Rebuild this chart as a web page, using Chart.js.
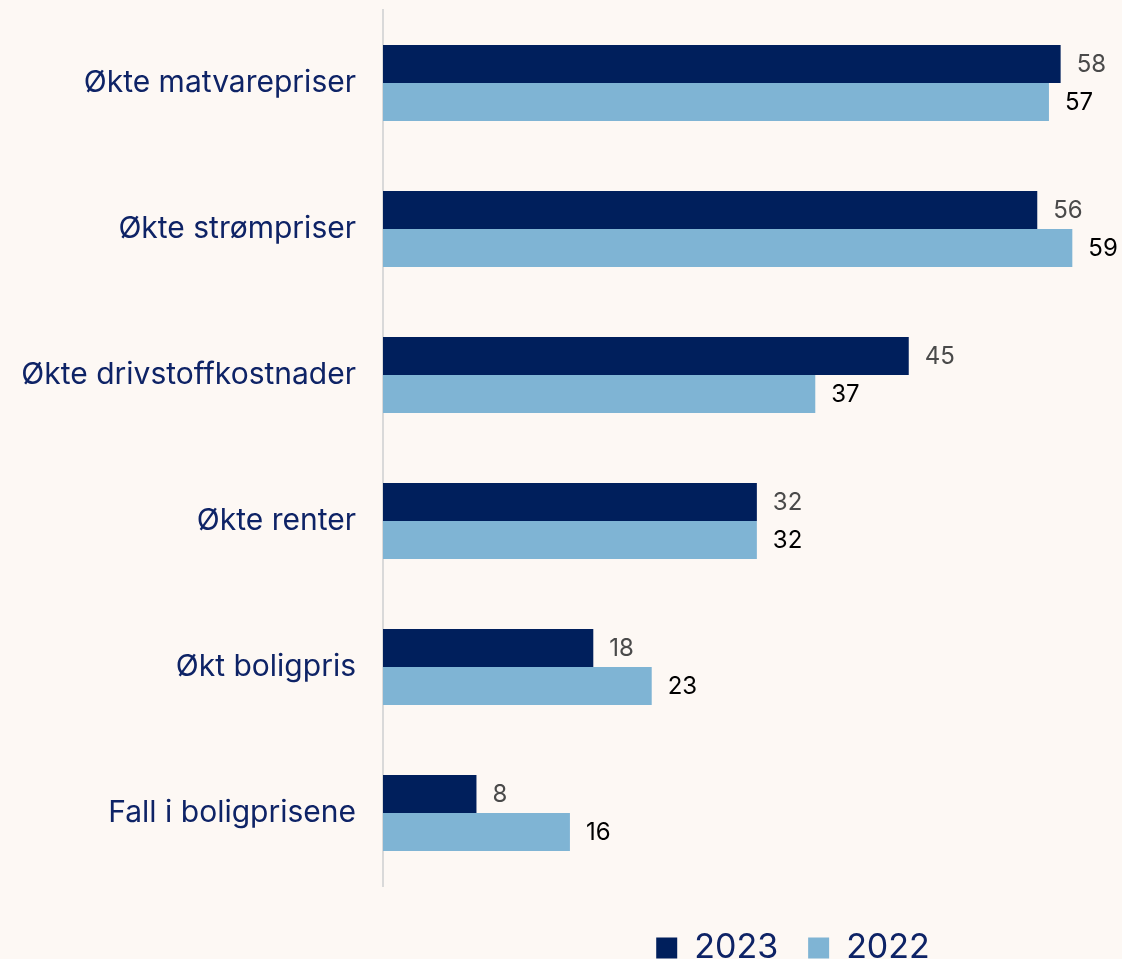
<!DOCTYPE html>
<html>
<head>
<meta charset="utf-8">
<script src="https://cdn.jsdelivr.net/npm/chart.js@4"></script>
<style>
  html, body { margin: 0; padding: 0; background: #FDF8F4; overflow: hidden; }
  #wrap { width: 1122px; height: 960px; }
</style>
</head>
<body>
<div id="wrap"><canvas id="barChart"></canvas></div>
<script>
var categories = ["Økte matvarepriser", "Økte strømpriser", "Økte drivstoffkostnader", "Økte renter", "Økt boligpris", "Fall i boligprisene"];
var values2023 = [58, 56, 45, 32, 18, 8];
var values2022 = [57, 59, 37, 32, 23, 16];

var navy = "#001F5C";
var light = "#7FB4D4";
var textNavy = "#0E2366";

// draws the numbers at the end of each bar, and nudges the legend
var barLabels = {
  id: "barLabels",
  afterLayout: function(chart) {
    chart.legend.left += 246;
    chart.legend.right += 246;
    chart.legend.top += 15;
    chart.legend.bottom += 15;
  },
  afterDatasetsDraw: function(chart) {
    var ctx = chart.ctx;
    ctx.save();
    ctx.font = "24px Inter";
    ctx.textBaseline = "middle";
    ctx.textAlign = "left";
    chart.data.datasets.forEach(function(ds, i) {
      var meta = chart.getDatasetMeta(i);
      ctx.fillStyle = i == 0 ? "#4A4A4A" : "#000000";
      meta.data.forEach(function(bar, j) {
        ctx.fillText(ds.data[j], bar.x + 16, bar.y + 1);
      });
    });
    ctx.restore();
  }
};

var chart = new Chart("barChart", {
  type: "bar",
  data: {
    labels: categories,
    datasets: [
      { label: "2023", data: values2023, backgroundColor: navy, categoryPercentage: 0.52, barPercentage: 1 },
      { label: "2022", data: values2022, backgroundColor: light, categoryPercentage: 0.52, barPercentage: 1 }
    ]
  },
  options: {
    indexAxis: "y",
    responsive: true,
    maintainAspectRatio: false,
    animation: false,
    layout: { padding: { top: 10, left: 10, right: 38, bottom: 0 } },
    plugins: {
      tooltip: { enabled: false },
      legend: {
        position: "bottom",
        labels: {
          color: textNavy,
          font: { family: "Inter", size: 34 },
          boxWidth: 21,
          boxHeight: 21,
          padding: 30
        }
      }
    },
    scales: {
      x: {
        display: false,
        min: 0,
        max: 60
      },
      y: {
        grid: { display: false },
        border: { display: true, color: "#D9D9D9", width: 2 },
        ticks: {
          color: textNavy,
          font: { family: "Inter", size: 30 },
          padding: 19
        },
        afterFit: function(scale) {
          scale.width = 373;
          scale.paddingTop = 0;
          scale.paddingBottom = 0;
        }
      }
    }
  },
  plugins: [barLabels]
});
</script>
</body>
</html>
